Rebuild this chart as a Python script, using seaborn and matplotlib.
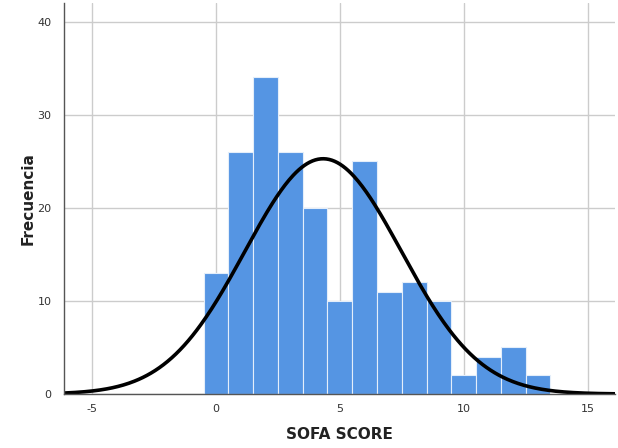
import numpy as np
import pandas as pd
import matplotlib
matplotlib.use("Agg")
import matplotlib.pyplot as plt
import seaborn as sns

# Data
scores = [0, 1, 2, 3, 4, 5, 6, 7, 8, 9, 10, 11, 12, 13]
counts = [13, 26, 34, 26, 20, 10, 25, 11, 12, 10, 2, 4, 5, 2]
x_ticks = [-5, 0, 5, 10, 15]
y_ticks = [0, 10, 20, 30, 40]

df = pd.DataFrame({"score": scores, "count": counts})

sns.set_theme(style="white")
plt.rcParams["axes.unicode_minus"] = False
fig = plt.figure(figsize=(6.18, 4.48), dpi=100)
ax = fig.add_axes([0.1036, 0.1205, 0.8914, 0.8728])

ax.set_xlim(-6.13, 16.1)
ax.set_ylim(0, 42.0)
ax.set_xticks(x_ticks)
ax.set_yticks(y_ticks)
ax.grid(True, color="#cccccc", linewidth=1.0)
ax.set_axisbelow(True)

sns.histplot(data=df, x="score", weights="count", binwidth=1, binrange=(-0.5, 13.5),
             color="#5595e3", alpha=1.0, edgecolor="#e4eefa", linewidth=0.8, ax=ax)

# Normal curve fit to the data
n = df["count"].sum()
mean = (df["score"] * df["count"]).sum() / n
var = ((df["score"] - mean) ** 2 * df["count"]).sum() / (n - 1)
sd = np.sqrt(var)
xs = np.linspace(-6.13, 16.1, 400)
ys = n * 1.0 / (sd * np.sqrt(2 * np.pi)) * np.exp(-0.5 * ((xs - mean) / sd) ** 2)
sns.lineplot(x=xs, y=ys, color="black", linewidth=2.6, ax=ax)

for s in ["top", "right"]:
    ax.spines[s].set_visible(False)
for s in ["left", "bottom"]:
    ax.spines[s].set_color("#555555")
    ax.spines[s].set_linewidth(1.0)

ax.tick_params(axis="both", length=0, labelsize=8, colors="#333333")
ax.tick_params(axis="x", pad=7)
ax.tick_params(axis="y", pad=9)
ax.set_xlabel("SOFA SCORE", fontsize=11, fontweight="bold", color="#222222")
ax.set_ylabel("Frecuencia", fontsize=11, fontweight="bold", color="#222222")
ax.xaxis.set_label_coords(0.5, -0.085)
ax.yaxis.set_label_coords(-0.052, 0.50)

fig.savefig("out.png", dpi=100)
